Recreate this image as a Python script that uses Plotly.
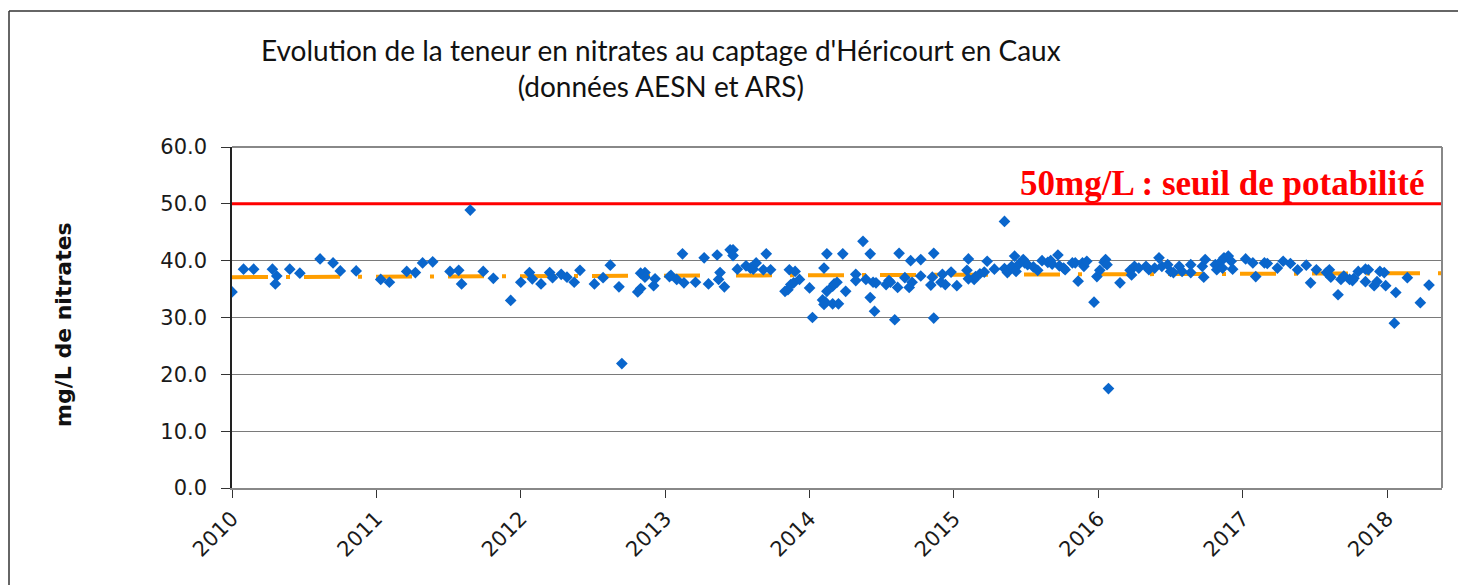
import plotly.graph_objects as go

# ---- data (decimal years, mg/L) ----
years = [
    2010.00, 2010.08, 2010.15, 2010.28, 2010.31, 2010.30, 2010.40, 2010.47, 2010.61, 2010.70,
    2010.75, 2010.86,
    2011.03, 2011.09, 2011.21, 2011.27, 2011.32, 2011.39, 2011.51, 2011.57, 2011.59, 2011.65,
    2011.74, 2011.81, 2011.93,
    2012.00, 2012.06, 2012.08, 2012.14, 2012.20, 2012.22, 2012.28, 2012.32, 2012.37, 2012.41,
    2012.51, 2012.57, 2012.62, 2012.68, 2012.70, 2012.81, 2012.83, 2012.83, 2012.86, 2012.86,
    2012.92, 2012.93,
    2013.03, 2013.04, 2013.08, 2013.12, 2013.13, 2013.21, 2013.27, 2013.30, 2013.36, 2013.37,
    2013.38, 2013.41, 2013.45, 2013.47, 2013.47, 2013.50, 2013.56, 2013.59, 2013.61, 2013.63,
    2013.68, 2013.70, 2013.73, 2013.83, 2013.85, 2013.86, 2013.87, 2013.89, 2013.90, 2013.93,
    2014.00, 2014.02, 2014.10, 2014.09, 2014.10, 2014.11, 2014.12, 2014.12, 2014.16, 2014.16,
    2014.17, 2014.19, 2014.20, 2014.23, 2014.25, 2014.32, 2014.32, 2014.37, 2014.39, 2014.42,
    2014.42, 2014.44, 2014.45, 2014.46, 2014.53, 2014.55, 2014.56, 2014.59, 2014.61, 2014.62,
    2014.66, 2014.69, 2014.70, 2014.71, 2014.77, 2014.77, 2014.84, 2014.85, 2014.86, 2014.86,
    2014.91, 2014.92, 2014.94, 2014.98,
    2015.02, 2015.09, 2015.10, 2015.10, 2015.14, 2015.15, 2015.18, 2015.21, 2015.23, 2015.28,
    2015.35, 2015.35, 2015.37, 2015.40, 2015.42, 2015.43, 2015.45, 2015.48, 2015.49, 2015.51,
    2015.55, 2015.58, 2015.61, 2015.65, 2015.67, 2015.68, 2015.72, 2015.73, 2015.76, 2015.77,
    2015.82, 2015.84, 2015.86, 2015.89, 2015.90, 2015.92, 2015.97, 2015.99,
    2016.01, 2016.04, 2016.05, 2016.06, 2016.07, 2016.15, 2016.22, 2016.23, 2016.25, 2016.28,
    2016.33, 2016.35, 2016.39, 2016.42, 2016.44, 2016.48, 2016.50, 2016.52, 2016.56, 2016.58,
    2016.64, 2016.64, 2016.72, 2016.73, 2016.74, 2016.81, 2016.82, 2016.85, 2016.86, 2016.87,
    2016.90, 2016.92, 2016.93,
    2017.02, 2017.07, 2017.09, 2017.15, 2017.17, 2017.24, 2017.28, 2017.33, 2017.38, 2017.44,
    2017.47, 2017.51, 2017.58, 2017.60, 2017.61, 2017.66, 2017.68, 2017.70, 2017.74, 2017.76,
    2017.77, 2017.80, 2017.85, 2017.85, 2017.87, 2017.91, 2017.93, 2017.95, 2017.98, 2017.99,
    2018.05, 2018.06, 2018.14, 2018.23, 2018.29,
]
nitrates = [
    34.5, 38.5, 38.5, 38.5, 37.3, 35.9, 38.5, 37.8, 40.3, 39.6,
    38.2, 38.2,
    36.7, 36.2, 38.1, 37.9, 39.6, 39.8, 38.1, 38.3, 35.9, 48.9,
    38.1, 36.9, 33.0,
    36.2, 37.9, 36.8, 35.9, 37.9, 37.0, 37.6, 37.1, 36.2, 38.3,
    35.9, 37.0, 39.2, 35.4, 21.9, 34.5, 35.1, 37.8, 37.9, 37.1,
    35.6, 36.8,
    37.2, 37.4, 36.7, 41.2, 36.1, 36.2, 40.5, 35.9, 41.0, 36.7,
    37.9, 35.4, 41.9, 41.9, 40.9, 38.5, 39.1, 38.7, 38.5, 39.6,
    38.4, 41.2, 38.4, 34.6, 34.9, 38.4, 35.8, 36.1, 38.1, 36.7,
    35.2, 30.0, 38.7, 33.1, 32.3, 32.7, 34.6, 41.2, 32.4, 35.5,
    35.9, 36.2, 32.4, 41.2, 34.6, 37.6, 36.5, 43.4, 36.7, 41.2,
    33.5, 36.2, 31.1, 36.1, 35.8, 36.5, 36.2, 29.6, 35.3, 41.3,
    37.0, 35.3, 40.0, 36.2, 40.2, 37.3, 35.7, 37.1, 41.3, 29.9,
    36.2, 37.6, 35.8, 38.0,
    35.6, 38.3, 40.3, 36.8, 36.7, 37.2, 37.7, 38.0, 39.9, 38.5,
    46.9, 38.6, 37.9, 39.0, 40.8, 38.1, 39.4, 40.2, 39.6, 39.3,
    38.9, 38.3, 40.0, 39.7, 40.0, 39.4, 41.0, 39.1, 38.7, 38.4,
    39.6, 39.6, 36.4, 39.6, 39.0, 39.9, 32.7, 37.2,
    38.3, 39.7, 40.2, 39.3, 17.5, 36.1, 38.3, 37.5, 39.0, 38.7,
    39.0, 38.4, 38.7, 40.5, 39.0, 39.3, 38.1, 37.9, 39.0, 38.1,
    39.3, 37.9, 39.0, 37.1, 40.2, 39.3, 38.4, 39.9, 38.7, 40.5,
    40.8, 39.9, 38.5,
    40.3, 39.6, 37.2, 39.6, 39.5, 38.7, 39.9, 39.5, 38.4, 39.2,
    36.1, 38.4, 37.9, 38.4, 37.1, 34.0, 36.7, 37.3, 36.7, 36.5,
    36.9, 38.1, 36.3, 38.5, 38.4, 35.6, 36.3, 38.1, 37.9, 35.6,
    29.0, 34.4, 37.0, 32.6, 35.7,
]
trend_x = [2010.0, 2018.38]
trend_y = [37.1, 37.8]
seuil = 50.0
tick_years = [2010, 2011, 2012, 2013, 2014, 2015, 2016, 2017, 2018]
y_ticks = [0, 10, 20, 30, 40, 50, 60]

title_text = "Evolution de la teneur en nitrates au captage d'Héricourt en Caux<br>(données AESN et ARS)"
seuil_text = "50mg/L : seuil de potabilité"
y_title = "mg/L de nitrates"

fig = go.Figure()

# threshold line
fig.add_trace(go.Scatter(
    x=[trend_x[0], trend_x[1]], y=[seuil, seuil], mode="lines",
    line=dict(color="#FF0000", width=3), hoverinfo="skip", showlegend=False))

# trend line (long dash - dot)
fig.add_trace(go.Scatter(
    x=trend_x, y=trend_y, mode="lines",
    line=dict(color="#FF9E00", width=4, dash="36px,18px,4px,14px"),
    hoverinfo="skip", showlegend=False))

# measurements
fig.add_trace(go.Scatter(
    x=years, y=nitrates, mode="markers",
    marker=dict(symbol="diamond", size=9, color="#0A66CC", line=dict(width=0)),
    showlegend=False))

# screen-space layout (the page body adds an 8px offset)
OFF = 8
SW, SH = 1466, 585
pl, pr, pt, pb = 232, 1442, 147, 488
W, H = SW - OFF, SH - OFF

def px_x(p):
    return (p - pl) / (pr - pl)

def px_y(p):
    return (pb - p) / (pb - pt)

fig.update_layout(
    width=W, height=H,
    margin=dict(l=pl - OFF, r=SW - pr, t=pt - OFF, b=SH - pb, pad=0, autoexpand=False),
    plot_bgcolor="white", paper_bgcolor="white",
    showlegend=False,
    font=dict(family="DejaVu Sans", color="#222222"),
    xaxis=dict(
        range=[trend_x[0], trend_x[1]], tickvals=tick_years,
        ticktext=[str(v) for v in tick_years],
        tickangle=-45, ticks="outside", ticklen=8, tickcolor="#333",
        showgrid=False, zeroline=False,
        showline=True, linecolor="#888888", linewidth=2,
        tickfont=dict(family="DejaVu Sans", size=21, color="#1a1a1a"),
    ),
    yaxis=dict(
        range=[0, 60], tickvals=y_ticks, tickformat=".1f",
        ticks="outside", ticklen=9, tickcolor="#333", ticklabelstandoff=10,
        showgrid=True, gridcolor="#7a7a7a", gridwidth=1,
        zeroline=False, showline=True, linecolor="#222222", linewidth=1.5,
        tickfont=dict(family="DejaVu Sans", size=21, color="#1a1a1a"),
    ),
    shapes=[
        dict(type="line", xref="paper", yref="paper", x0=0, x1=1, y0=1, y1=1,
             line=dict(color="#888888", width=2)),
        dict(type="line", xref="paper", yref="paper", x0=1, x1=1, y0=0, y1=1,
             line=dict(color="#888888", width=2)),
        # outer chart frame
        dict(type="line", xref="paper", yref="paper", x0=px_x(9), x1=px_x(SW + 5),
             y0=px_y(11), y1=px_y(11), line=dict(color="#333333", width=1.5)),
        dict(type="line", xref="paper", yref="paper", x0=px_x(9), x1=px_x(9),
             y0=px_y(11), y1=px_y(SH + 5), line=dict(color="#333333", width=1.5)),
    ],
    annotations=[
        dict(text=title_text, xref="paper", yref="paper",
             x=px_x(661), y=px_y(31), xanchor="center", yanchor="top",
             showarrow=False, align="center",
             font=dict(family="Lato", size=28, color="#111")),
        dict(text=y_title, xref="paper", yref="paper",
             x=px_x(63), y=px_y(325), xanchor="center", yanchor="middle",
             textangle=-90, showarrow=False,
             font=dict(family="DejaVu Sans", size=22, color="#111", weight="bold")),
        dict(text="<b>" + seuil_text + "</b>", xref="paper", yref="y",
             x=px_x(1426), y=seuil, xanchor="right", yanchor="bottom",
             showarrow=False, yshift=-1,
             font=dict(family="Liberation Serif", size=35, color="#FF0000")),
    ],
)

fig.write_html("out.html")
